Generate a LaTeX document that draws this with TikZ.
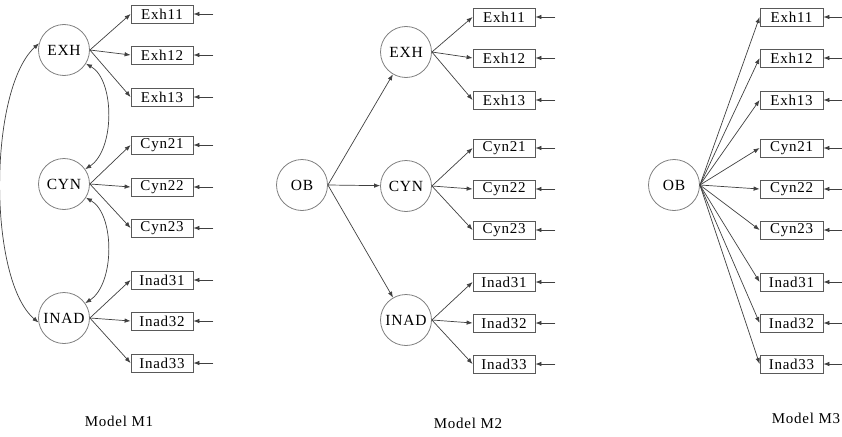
\documentclass[tikz,border=0pt]{standalone}
\usepackage{fontspec}
\setmainfont{Liberation Serif}
\newfontfamily\lblfont[LetterSpace=5]{Liberation Serif}
\usetikzlibrary{arrows.meta,calc}
\begin{document}
\begin{tikzpicture}[x=1pt,y=-1pt,
  latent/.style={circle,draw=black!50,line width=0.8pt,minimum size=51pt,inner sep=0pt,
    font=\lblfont\fontsize{15.5}{16}\selectfont},
  ind/.style={rectangle,draw=black!65,line width=0.8pt,minimum width=62pt,minimum height=18pt,inner sep=0pt,
    font=\lblfont\fontsize{15}{16}\selectfont},
  arr/.style={draw=black!75,line width=0.7pt,-{Latex[length=6pt,width=4.5pt]}},
  darr/.style={draw=black!75,line width=0.7pt,{Latex[length=6pt,width=4.5pt]}-{Latex[length=6pt,width=4.5pt]}},
  captext/.style={font=\lblfont\fontsize{15}{16}\selectfont}]
\useasboundingbox (0,0) rectangle (842,436);

% ---------- Model M1 ----------
\node[latent] (aEXH) at (64,50) {EXH};
\node[latent] (aCYN) at (64,184) {CYN};
\node[latent] (aINAD) at (64,318) {INAD};
\foreach \n/\t/\y in {e11/Exh11/14,e12/Exh12/55,e13/Exh13/97,c21/Cyn21/145,c22/Cyn22/187,c23/Cyn23/228,i31/Inad31/280,i32/Inad32/321,i33/Inad33/363}
  {\node[ind] (a\n) at (162,\y) {\t};
   \coordinate (ae\n) at ($(a\n.east)+(20,0)$);
   \draw[arr] (ae\n) -- (a\n.east);}
\foreach \f/\l in {EXH/e1,CYN/c2,INAD/i3}
  {\foreach \k in {1,2,3} {\draw[arr] (a\f.east) -- (a\l\k.west);}}
\draw[darr] (aEXH.165) .. controls (-12,90) and (-12,280) .. (aINAD.190);
\draw[darr] (aEXH.-32) .. controls (115,80) and (115,150) .. (aCYN.35);
\draw[darr] (aCYN.-32) .. controls (115,214) and (115,284) .. (aINAD.35);
\node[captext] (capA) at (119,421) {Model M1};

% ---------- Model M2 ----------
\node[latent] (bOB) at (302,185) {OB};
\node[latent] (bEXH) at (406,52) {EXH};
\node[latent] (bCYN) at (406,186) {CYN};
\node[latent] (bINAD) at (406,320) {INAD};
\foreach \n/\t/\y in {e11/Exh11/17,e12/Exh12/58,e13/Exh13/100,c21/Cyn21/148,c22/Cyn22/189,c23/Cyn23/230,i31/Inad31/282,i32/Inad32/323,i33/Inad33/364}
  {\node[ind] (b\n) at (504,\y) {\t};
   \coordinate (be\n) at ($(b\n.east)+(20,0)$);
   \draw[arr] (be\n) -- (b\n.east);}
\foreach \f/\l in {EXH/e1,CYN/c2,INAD/i3}
  {\foreach \k in {1,2,3} {\draw[arr] (b\f.east) -- (b\l\k.west);}}
\draw[arr] (bOB.east) -- (bEXH);
\draw[arr] (bOB.east) -- (bCYN);
\draw[arr] (bOB.east) -- (bINAD);
\node[captext] (capB) at (468,423) {Model M2};

% ---------- Model M3 ----------
\node[latent] (cOB) at (674,185) {OB};
\foreach \n/\t/\y in {e11/Exh11/17,e12/Exh12/58,e13/Exh13/100,c21/Cyn21/148,c22/Cyn22/189,c23/Cyn23/230,i31/Inad31/282,i32/Inad32/323,i33/Inad33/364}
  {\node[ind,minimum width=63pt] (c\n) at (791.5,\y) {\t};
   \coordinate (ce\n) at ($(c\n.east)+(20,0)$);
   \draw[arr] (ce\n) -- (c\n.east);
   \draw[arr] (cOB.east) -- (c\n.west);}
\node[captext] (capC) at (806,418) {Model M3};
\end{tikzpicture}
\end{document}
